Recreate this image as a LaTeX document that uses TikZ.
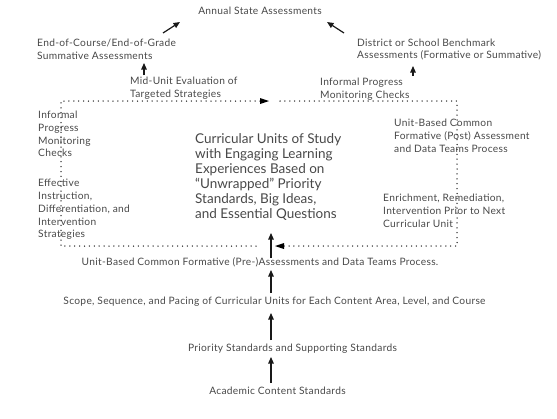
\documentclass[tikz,border=0pt]{standalone}
\usepackage{fontspec}
\setmainfont{Lato}
\newfontfamily\smallfam[LetterSpace=3]{Lato}
\usetikzlibrary{arrows.meta}
\definecolor{txt}{HTML}{484848}
\definecolor{dotc}{HTML}{2a2a2a}
\begin{document}
\begin{tikzpicture}[x=1pt,y=-1pt,
  lbl/.style={inner sep=0pt,text=txt,font=\smallfam\fontsize{10.2}{12.8}\selectfont,align=left},
  big/.style={inner sep=0pt,text=txt,font=\fontsize{13.5}{14.9}\selectfont,align=left},
  arr/.style={draw=black!90,line width=1.2pt,-{Triangle[length=6.5pt,width=5.5pt]}},
  dotline/.style={draw=dotc,line width=1.5pt,line cap=round,dash pattern=on 0pt off 4.9pt}]
\useasboundingbox (0,0) rectangle (557,418);
% texts
\node[lbl,anchor=center] (annual) at (260,11) {Annual State Assessments};
\node[lbl,anchor=west] (eoc) at (37,49.5) {End-of-Course/End-of-Grade\\Summative Assessments};
\node[lbl,anchor=west] (district) at (357,49.5) {District or School Benchmark\\Assessments (Formative or Summative)};
\node[lbl,anchor=west] (midunit) at (130,88.5) {Mid-Unit Evaluation of\\Targeted Strategies};
\node[lbl,anchor=west] (infotop) at (320,89) {Informal Progress\\Monitoring Checks};
\node[lbl,anchor=west] (infoleft) at (38,134) {Informal\\Progress\\Monitoring\\Checks};
\node[lbl,anchor=west] (effective) at (38,209.5) {Effective\\Instruction,\\Differentiation, and\\Intervention\\Strategies};
\node[big,anchor=west] (units) at (195,177) {Curricular Units of Study\\with Engaging Learning\\Experiences Based on\\``Unwrapped'' Priority\\Standards, Big Ideas,\\and Essential Questions};
\node[lbl,anchor=west] (postass) at (394,135.5) {Unit-Based Common\\Formative (Post) Assessment\\and Data Teams Process};
\node[lbl,anchor=west] (enrich) at (383,211) {Enrichment, Remediation,\\Intervention Prior to Next\\Curricular Unit};
\node[lbl,anchor=center] (preass) at (260,262) {Unit-Based Common Formative (Pre-)Assessments and Data Teams Process.};
\node[lbl,anchor=center] (scope) at (274.5,302) {Scope, Sequence, and Pacing of Curricular Units for Each Content Area, Level, and Course};
\node[lbl,anchor=center] (priority) at (292.5,349) {Priority Standards and Supporting Standards};
\node[lbl,anchor=center] (academic) at (277.5,391) {Academic Content Standards};
% connector end points
\coordinate (eocT) at (163,33); \coordinate (annL) at (180,22);
\coordinate (disT) at (344,33); \coordinate (annR) at (327,22);
\coordinate (midT) at (144,75); \coordinate (eocB) at (144,63);
\coordinate (infT) at (413,76); \coordinate (disB) at (413,66);
\coordinate (preT) at (271,258); \coordinate (unitB) at (271,233);
\coordinate (scoT) at (271,293); \coordinate (preB) at (271,270);
\coordinate (priT) at (271,340); \coordinate (scoB) at (271,313);
\coordinate (acaT) at (271,383); \coordinate (priB) at (271,357);
\coordinate (L1) at (256,246); \coordinate (L2) at (61,246);
\coordinate (L3) at (61,101); \coordinate (L4) at (269,101);
\coordinate (R1) at (280,101); \coordinate (R2) at (457,101);
\coordinate (R3) at (457,246); \coordinate (R4) at (275,246);
% arrows
\draw[arr] (eocT) -- (annL);
\draw[arr] (disT) -- (annR);
\draw[arr] (midT) -- (eocB);
\draw[arr] (infT) -- (disB);
\draw[arr] (preT) -- (unitB);
\draw[arr] (scoT) -- (preB);
\draw[arr] (priT) -- (scoB);
\draw[arr] (acaT) -- (priB);
% dotted cycle
\draw[dotline] (L1) -- (L2) -- (L3) -- ([xshift=-8pt]L4);
\draw[dotline] (R1) -- (R2) -- (R3) -- ([xshift=8pt]R4);
\fill[black] (L4) -- ++(-9,-3) -- ++(0,6) -- cycle;
\fill[black] (R4) -- ++(9,-3) -- ++(0,6) -- cycle;
\end{tikzpicture}
\end{document}
